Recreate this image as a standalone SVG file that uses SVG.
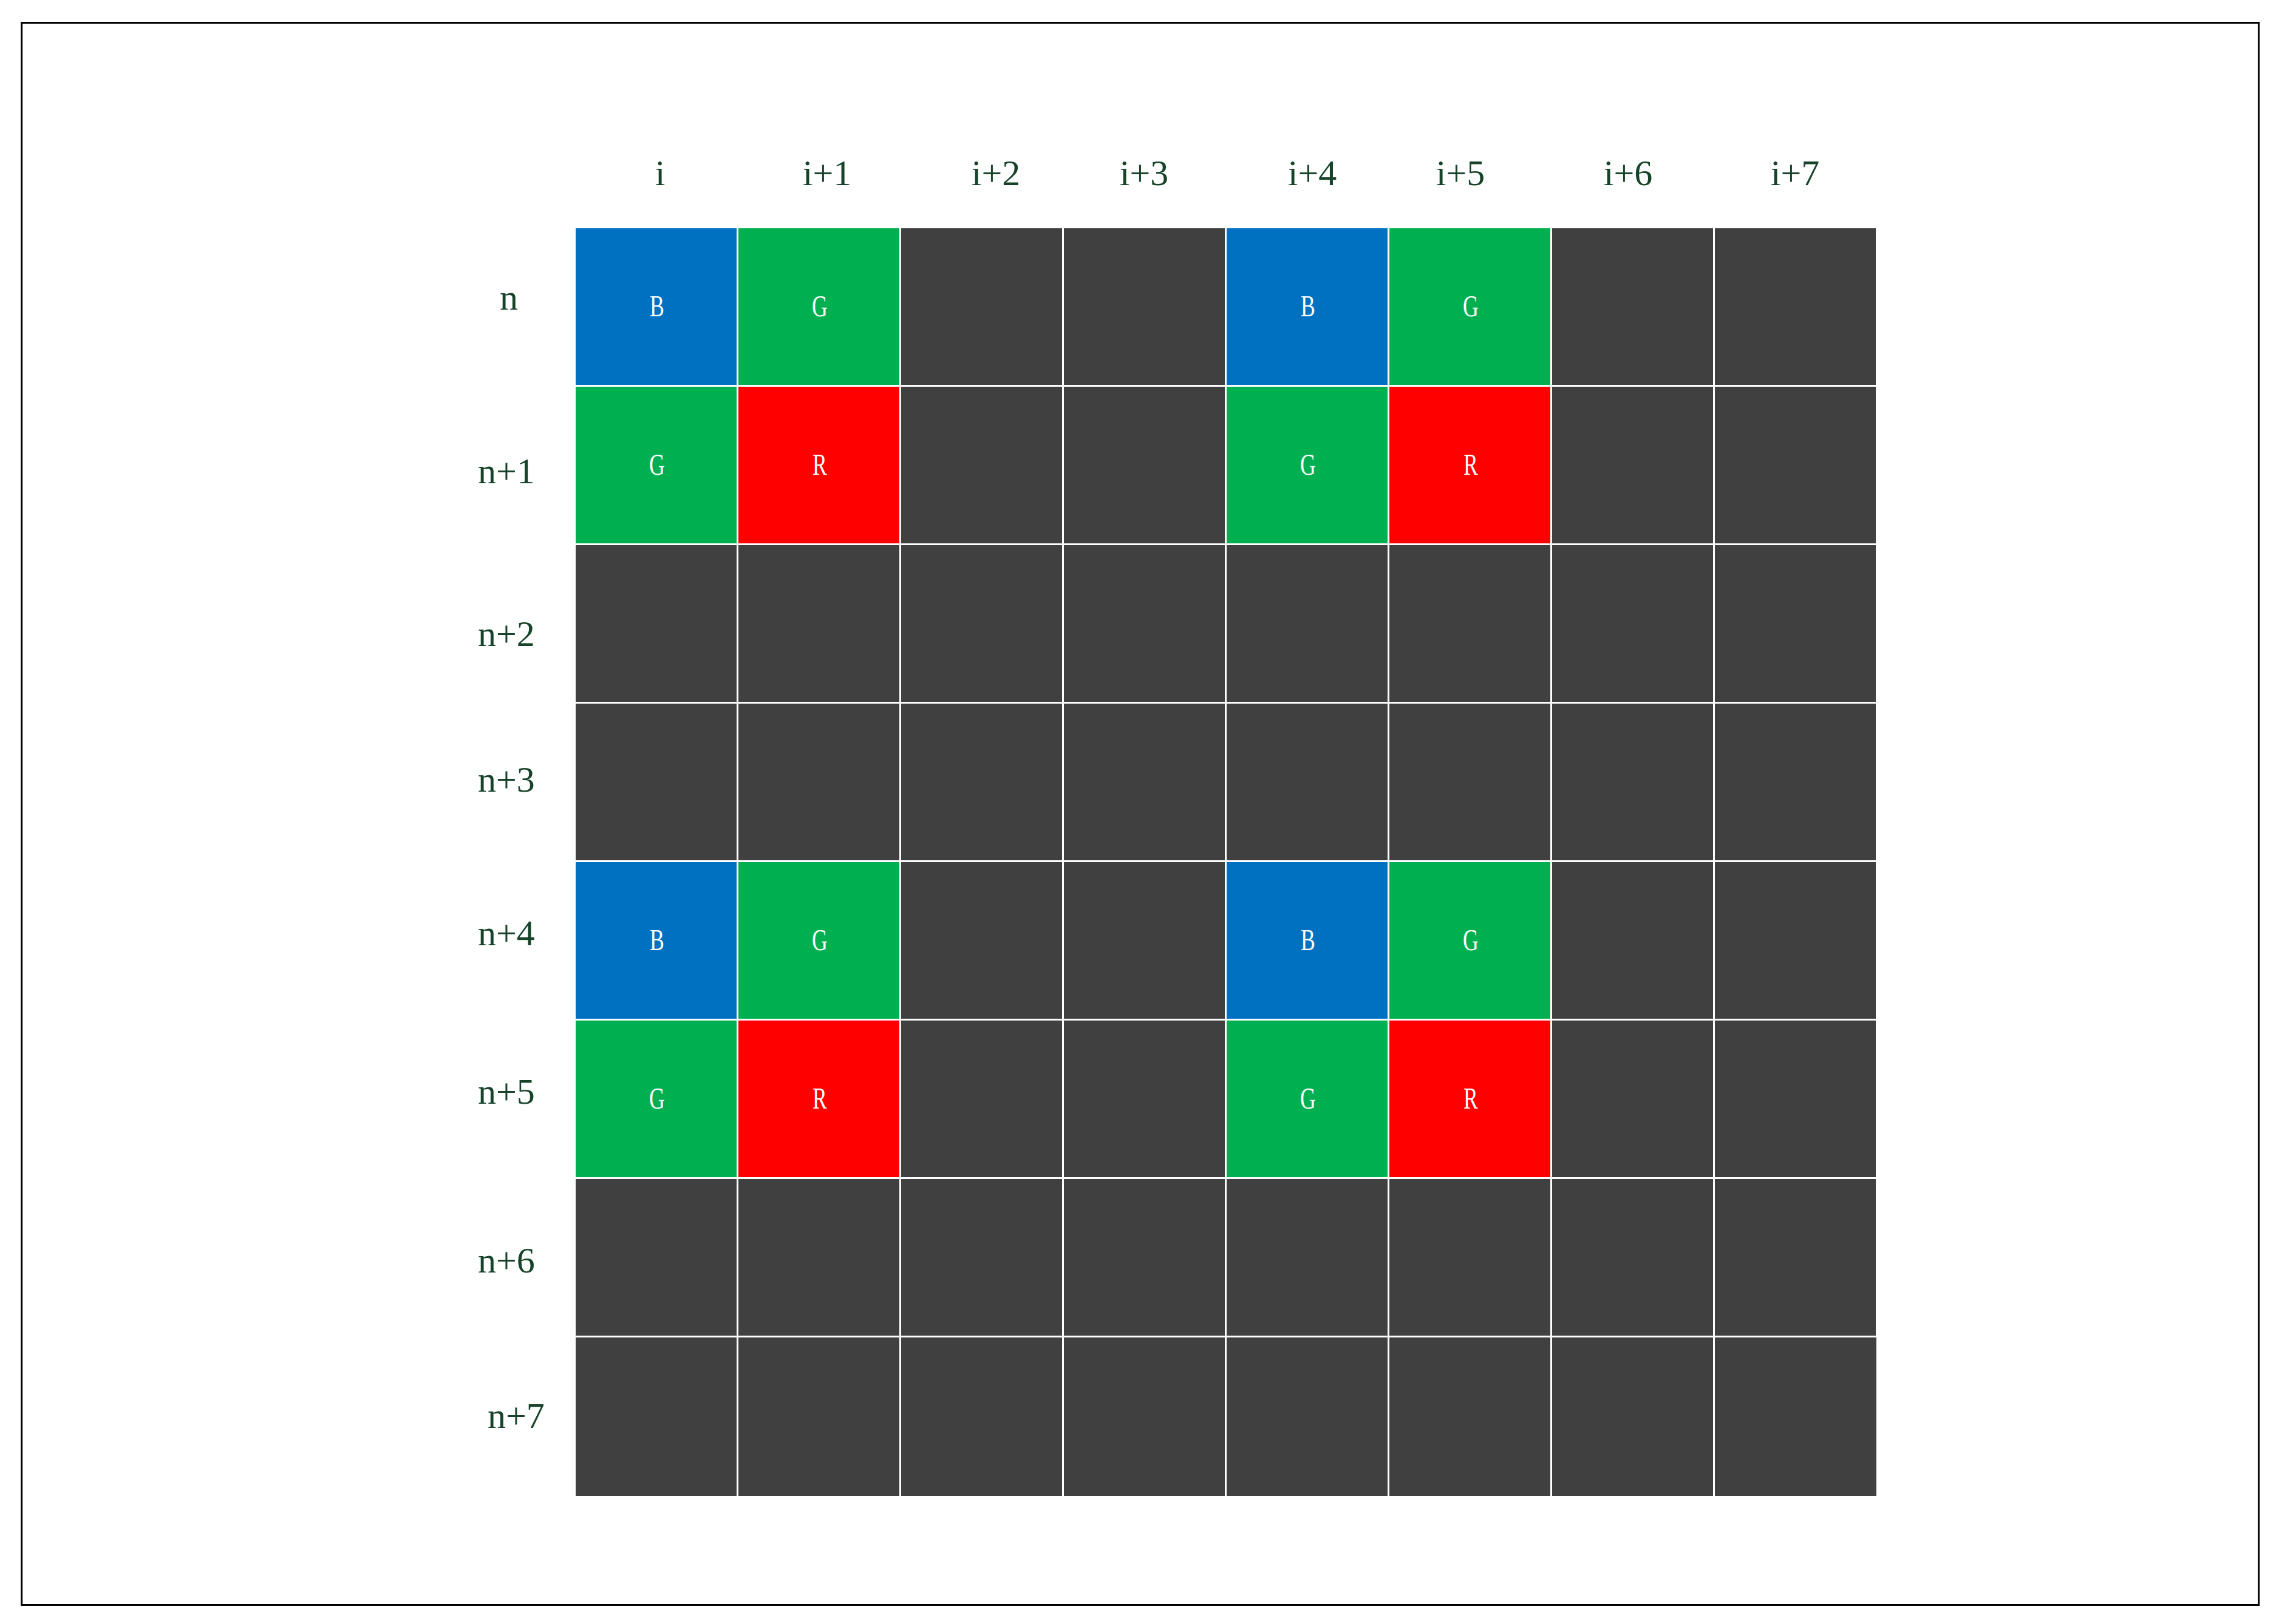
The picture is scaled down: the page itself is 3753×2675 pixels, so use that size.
<svg xmlns="http://www.w3.org/2000/svg" width="3753" height="2675" viewBox="0 0 3753 2675">
<style>
.frame{fill:none;stroke:#000;stroke-width:3}
.k{fill:#404040}
.b{fill:#0070C0}
.g{fill:#00B050}
.r{fill:#FF0000}
.lbl{font-family:"Liberation Serif","Times New Roman",serif;font-size:60px;fill:#17432A}
.cl{text-anchor:middle}
.cell{font-family:"Liberation Serif","Times New Roman",serif;font-size:51px;fill:#FFFFFF;text-anchor:middle}
</style>
<rect width="3753" height="2675" fill="#FFFFFF"/>
<rect class="frame" x="35.7" y="37.5" width="3684" height="2606"/>
<g id="col-labels">
<text class="lbl cl" x="1087" y="305">i</text>
<text class="lbl cl" x="1362" y="305">i+1</text>
<text class="lbl cl" x="1640" y="305">i+2</text>
<text class="lbl cl" x="1884" y="305">i+3</text>
<text class="lbl cl" x="2161" y="305">i+4</text>
<text class="lbl cl" x="2405" y="305">i+5</text>
<text class="lbl cl" x="2681" y="305">i+6</text>
<text class="lbl cl" x="2956" y="305">i+7</text>
</g>
<g id="row-labels">
<text class="lbl" x="823" y="510">n</text>
<text class="lbl" x="787" y="796">n+1</text>
<text class="lbl" x="787" y="1064">n+2</text>
<text class="lbl" x="787" y="1304">n+3</text>
<text class="lbl" x="787" y="1557">n+4</text>
<text class="lbl" x="787" y="1818">n+5</text>
<text class="lbl" x="787" y="2096">n+6</text>
<text class="lbl" x="803" y="2352">n+7</text>
</g>
<g id="grid">
<g id="row0">
<rect class="b" x="948" y="376" width="265" height="258"/>
<rect class="g" x="1216" y="376" width="265" height="258"/>
<rect class="k" x="1484" y="376" width="265" height="258"/>
<rect class="k" x="1752" y="376" width="265" height="258"/>
<rect class="b" x="2020" y="376" width="265" height="258"/>
<rect class="g" x="2288" y="376" width="265" height="258"/>
<rect class="k" x="2556" y="376" width="265" height="258"/>
<rect class="k" x="2824" y="376" width="265" height="258"/>
<text class="cell" transform="translate(1082 521) scale(0.7 1)">B</text>
<text class="cell" transform="translate(1350 521) scale(0.7 1)">G</text>
<text class="cell" transform="translate(2154 521) scale(0.7 1)">B</text>
<text class="cell" transform="translate(2422 521) scale(0.7 1)">G</text>
</g>
<g id="row1">
<rect class="g" x="948" y="637" width="265" height="258"/>
<rect class="r" x="1216" y="637" width="265" height="258"/>
<rect class="k" x="1484" y="637" width="265" height="258"/>
<rect class="k" x="1752" y="637" width="265" height="258"/>
<rect class="g" x="2020" y="637" width="265" height="258"/>
<rect class="r" x="2288" y="637" width="265" height="258"/>
<rect class="k" x="2556" y="637" width="265" height="258"/>
<rect class="k" x="2824" y="637" width="265" height="258"/>
<text class="cell" transform="translate(1082 782) scale(0.7 1)">G</text>
<text class="cell" transform="translate(1350 782) scale(0.7 1)">R</text>
<text class="cell" transform="translate(2154 782) scale(0.7 1)">G</text>
<text class="cell" transform="translate(2422 782) scale(0.7 1)">R</text>
</g>
<g id="row2">
<rect class="k" x="948" y="898" width="265" height="258"/>
<rect class="k" x="1216" y="898" width="265" height="258"/>
<rect class="k" x="1484" y="898" width="265" height="258"/>
<rect class="k" x="1752" y="898" width="265" height="258"/>
<rect class="k" x="2020" y="898" width="265" height="258"/>
<rect class="k" x="2288" y="898" width="265" height="258"/>
<rect class="k" x="2556" y="898" width="265" height="258"/>
<rect class="k" x="2824" y="898" width="265" height="258"/>
</g>
<g id="row3">
<rect class="k" x="948" y="1159" width="265" height="258"/>
<rect class="k" x="1216" y="1159" width="265" height="258"/>
<rect class="k" x="1484" y="1159" width="265" height="258"/>
<rect class="k" x="1752" y="1159" width="265" height="258"/>
<rect class="k" x="2020" y="1159" width="265" height="258"/>
<rect class="k" x="2288" y="1159" width="265" height="258"/>
<rect class="k" x="2556" y="1159" width="265" height="258"/>
<rect class="k" x="2824" y="1159" width="265" height="258"/>
</g>
<g id="row4">
<rect class="b" x="948" y="1420" width="265" height="258"/>
<rect class="g" x="1216" y="1420" width="265" height="258"/>
<rect class="k" x="1484" y="1420" width="265" height="258"/>
<rect class="k" x="1752" y="1420" width="265" height="258"/>
<rect class="b" x="2020" y="1420" width="265" height="258"/>
<rect class="g" x="2288" y="1420" width="265" height="258"/>
<rect class="k" x="2556" y="1420" width="265" height="258"/>
<rect class="k" x="2824" y="1420" width="265" height="258"/>
<text class="cell" transform="translate(1082 1565) scale(0.7 1)">B</text>
<text class="cell" transform="translate(1350 1565) scale(0.7 1)">G</text>
<text class="cell" transform="translate(2154 1565) scale(0.7 1)">B</text>
<text class="cell" transform="translate(2422 1565) scale(0.7 1)">G</text>
</g>
<g id="row5">
<rect class="g" x="948" y="1681" width="265" height="258"/>
<rect class="r" x="1216" y="1681" width="265" height="258"/>
<rect class="k" x="1484" y="1681" width="265" height="258"/>
<rect class="k" x="1752" y="1681" width="265" height="258"/>
<rect class="g" x="2020" y="1681" width="265" height="258"/>
<rect class="r" x="2288" y="1681" width="265" height="258"/>
<rect class="k" x="2556" y="1681" width="265" height="258"/>
<rect class="k" x="2824" y="1681" width="265" height="258"/>
<text class="cell" transform="translate(1082 1826) scale(0.7 1)">G</text>
<text class="cell" transform="translate(1350 1826) scale(0.7 1)">R</text>
<text class="cell" transform="translate(2154 1826) scale(0.7 1)">G</text>
<text class="cell" transform="translate(2422 1826) scale(0.7 1)">R</text>
</g>
<g id="row6">
<rect class="k" x="948" y="1942" width="265" height="258"/>
<rect class="k" x="1216" y="1942" width="265" height="258"/>
<rect class="k" x="1484" y="1942" width="265" height="258"/>
<rect class="k" x="1752" y="1942" width="265" height="258"/>
<rect class="k" x="2020" y="1942" width="265" height="258"/>
<rect class="k" x="2288" y="1942" width="265" height="258"/>
<rect class="k" x="2556" y="1942" width="265" height="258"/>
<rect class="k" x="2824" y="1942" width="265" height="258"/>
</g>
<g id="row7">
<rect class="k" x="948" y="2203" width="265" height="261"/>
<rect class="k" x="1216" y="2203" width="265" height="261"/>
<rect class="k" x="1484" y="2203" width="265" height="261"/>
<rect class="k" x="1752" y="2203" width="265" height="261"/>
<rect class="k" x="2020" y="2203" width="265" height="261"/>
<rect class="k" x="2288" y="2203" width="265" height="261"/>
<rect class="k" x="2556" y="2203" width="265" height="261"/>
<rect class="k" x="2824" y="2203" width="266" height="261"/>
</g>
</g>
<g id="connectors"></g>
</svg>
